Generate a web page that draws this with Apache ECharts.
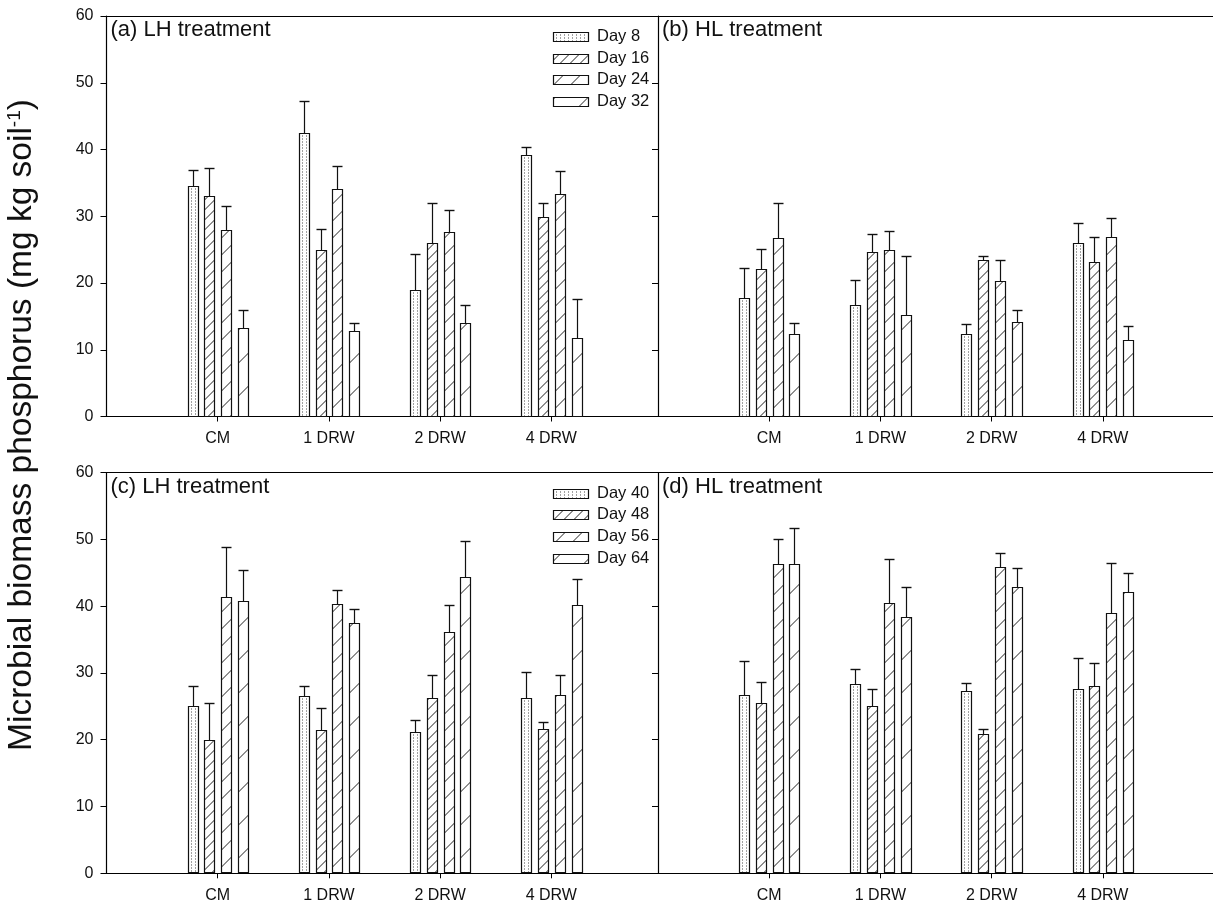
<!DOCTYPE html>
<html><head><meta charset="utf-8">
<script src="https://cdn.jsdelivr.net/npm/echarts@6/dist/echarts.min.js"></script>
<style>html,body{margin:0;padding:0;background:#fff}#c{width:1213px;height:908px}</style>
</head><body><div id="c"></div><script>
// ---------------- data ----------------
const categories = ['CM', '1 DRW', '2 DRW', '4 DRW'];
const daysEarly = ['Day 8', 'Day 16', 'Day 24', 'Day 32'];
const daysLate = ['Day 40', 'Day 48', 'Day 56', 'Day 64'];
const panelTitles = ['(a) LH treatment', '(b) HL treatment', '(c) LH treatment', '(d) HL treatment'];
const yTickStep = 10, yMax = 60;

// (a) LH treatment, days 8-32 : means and upper error
const lhDay8 = [34.5, 42.4, 19.0, 39.2];   const lhDay8Err = [2.4, 4.8, 5.4, 1.2];
const lhDay16 = [33.0, 25.0, 26.0, 29.9];  const lhDay16Err = [4.3, 3.1, 6.0, 2.1];
const lhDay24 = [27.9, 34.1, 27.6, 33.3];  const lhDay24Err = [3.7, 3.5, 3.4, 3.5];
const lhDay32 = [13.3, 12.8, 14.0, 11.8];  const lhDay32Err = [2.6, 1.2, 2.7, 5.8];
// (b) HL treatment, days 8-32
const hlDay8 = [17.7, 16.7, 12.3, 26.0];   const hlDay8Err = [4.6, 3.7, 1.6, 3.0];
const hlDay16 = [22.1, 24.6, 23.5, 23.2];  const hlDay16Err = [3.0, 2.7, 0.6, 3.7];
const hlDay24 = [26.7, 25.0, 20.3, 26.9];  const hlDay24Err = [5.3, 2.8, 3.2, 2.8];
const hlDay32 = [12.4, 15.2, 14.2, 11.4];  const hlDay32Err = [1.6, 8.8, 1.8, 2.1];
// (c) LH treatment, days 40-64
const lhDay40 = [25.0, 26.6, 21.1, 26.2];  const lhDay40Err = [3.1, 1.5, 1.8, 3.9];
const lhDay48 = [19.9, 21.5, 26.2, 21.6];  const lhDay48Err = [5.6, 3.3, 3.5, 1.0];
const lhDay56 = [41.3, 40.3, 36.1, 26.7];  const lhDay56Err = [7.5, 2.1, 4.0, 3.0];
const lhDay64 = [40.8, 37.4, 44.4, 40.1];  const lhDay64Err = [4.6, 2.2, 5.4, 3.9];
// (d) HL treatment, days 40-64
const hlDay40 = [26.7, 28.3, 27.3, 27.6];  const hlDay40Err = [5.1, 2.3, 1.2, 4.6];
const hlDay48 = [25.5, 25.0, 20.9, 28.0];  const hlDay48Err = [3.2, 2.6, 0.7, 3.5];
const hlDay56 = [46.3, 40.4, 45.9, 39.0];  const hlDay56Err = [3.7, 6.7, 2.1, 7.5];
const hlDay64 = [46.3, 38.4, 42.8, 42.1];  const hlDay64Err = [5.4, 4.5, 2.9, 2.9];

// ---------------- styling / layout ----------------
const F = "'Liberation Sans', Arial, sans-serif";
const INK = '#111';
const OFFS = [-25.2, -8.4, 8.4, 25.2];      // px offset of each day's bar within a group
const HATCH = [0, 10, 17, 33];              // hatch spacing (0 = dotted)
const UNIT = 111.2;                         // px per category step
const grids = [
  {left: 106.5, top: 16, width: 551.5, height: 400.5},
  {left: 658, top: 16, width: 555, height: 400.5},
  {left: 106.5, top: 472.5, width: 551.5, height: 400.8},
  {left: 658, top: 472.5, width: 555, height: 400.8}
];
const panels = [
  {days: daysEarly, means: [lhDay8, lhDay16, lhDay24, lhDay32], errs: [lhDay8Err, lhDay16Err, lhDay24Err, lhDay32Err]},
  {days: daysEarly, means: [hlDay8, hlDay16, hlDay24, hlDay32], errs: [hlDay8Err, hlDay16Err, hlDay24Err, hlDay32Err]},
  {days: daysLate, means: [lhDay40, lhDay48, lhDay56, lhDay64], errs: [lhDay40Err, lhDay48Err, lhDay56Err, lhDay64Err]},
  {days: daysLate, means: [hlDay40, hlDay48, hlDay56, hlDay64], errs: [hlDay40Err, hlDay48Err, hlDay56Err, hlDay64Err]}
];

function pattern(x0, y0, x1, y1, k) {
  const els = [];
  const w = x1 - x0;
  if (k === 0) {
    for (let dx = 3; dx < w - 1; dx += 4) {
      els.push({type: 'line', shape: {x1: x0 + dx, y1: y0 + 2, x2: x0 + dx, y2: y1},
        style: {stroke: '#444', lineWidth: 1, lineDash: [1, 2]}});
    }
    return els;
  }
  const s = HATCH[k];
  const cStart = Math.floor(y0 / s) * s;
  for (let c = cStart; c <= y1 + w + s; c += s) {
    const tmin = Math.max(0, (c - y1) / w), tmax = Math.min(1, (c - y0) / w);
    if (tmax > tmin) {
      els.push({type: 'line', shape: {x1: x0 + tmin * w, y1: c - tmin * w, x2: x0 + tmax * w, y2: c - tmax * w},
        style: {stroke: '#222', lineWidth: 1}});
    }
  }
  return els;
}

function makeSeries(name, means, errs, k, g) {
  return {
    type: 'custom', name, xAxisIndex: g, yAxisIndex: g,
    data: means.map((m, i) => [i + 1, m, errs[i]]),
    encode: {x: 0, y: 1},
    renderItem(params, api) {
      const top = api.coord([api.value(0), api.value(1)]);
      const base = api.coord([api.value(0), 0]);
      const et = api.coord([api.value(0), api.value(1) + api.value(2)]);
      const cx = Math.round(top[0] + OFFS[k]) + 0.5;
      const x0 = cx - 5, x1 = cx + 5;
      const y0 = Math.round(top[1]) + 0.5, y1 = Math.round(base[1]) - 0.5;
      const ye = Math.round(et[1]) + 0.5;
      const children = [
        {type: 'line', shape: {x1: cx, y1: y0, x2: cx, y2: ye}, style: {stroke: INK, lineWidth: 1.2}},
        {type: 'line', shape: {x1: cx - 5, y1: ye, x2: cx + 5, y2: ye}, style: {stroke: INK, lineWidth: 1.4}},
        {type: 'rect', shape: {x: x0, y: y0, width: x1 - x0, height: y1 - y0}, style: {fill: '#fff', stroke: null}}
      ];
      children.push(...pattern(x0, y0, x1, y1, k));
      children.push({type: 'rect', shape: {x: x0, y: y0, width: x1 - x0, height: y1 - y0},
        style: {fill: null, stroke: INK, lineWidth: 1.2}});
      return {type: 'group', children};
    }
  };
}

const series = [];
panels.forEach((p, g) => p.means.forEach((m, k) => series.push(makeSeries(p.days[k], m, p.errs[k], k, g))));

// legend graphics (panels a and c)
const graphic = [];
function legend(days, yc0) {
  days.forEach((d, k) => {
    const yc = yc0 + k * 21.7;
    const x0 = 553.5, x1 = 588.5, y0 = Math.round(yc - 4.5) + 0.5, y1 = y0 + 9;
    graphic.push({type: 'rect', shape: {x: x0, y: y0, width: x1 - x0, height: y1 - y0}, style: {fill: '#fff'}});
    pattern(x0, y0, x1, y1, k).forEach(e => graphic.push(e));
    graphic.push({type: 'rect', shape: {x: x0, y: y0, width: x1 - x0, height: y1 - y0}, style: {fill: null, stroke: INK, lineWidth: 1.2}});
    graphic.push({type: 'text', x: 597, y: yc, style: {text: d, fontSize: 16.5, fontFamily: F, fill: INK, verticalAlign: 'middle'}});
  });
}
legend(daysEarly, 36.5);
legend(daysLate, 493);
graphic.push({type: 'text', x: 22, y: 425, rotation: Math.PI / 2,
  style: {text: '{a|Microbial biomass phosphorus (mg kg soil}{s|-1}{a|)}', align: 'center', verticalAlign: 'middle',
    rich: {a: {fontSize: 33.5, fontFamily: F, fill: INK}, s: {fontSize: 19, fontFamily: F, fill: INK, verticalAlign: 'top'}}}});

const xAxes = [];
grids.forEach((gd, g) => {
  xAxes.push({
    gridIndex: g, type: 'value', min: 0, max: gd.width / UNIT, position: 'bottom',
    axisLine: {show: true, lineStyle: {color: '#000', width: 1.2}},
    axisTick: {show: true, customValues: [1, 2, 3, 4], length: 5, lineStyle: {color: '#000'}},
    axisLabel: {customValues: [1, 2, 3, 4], formatter: v => categories[Math.round(v) - 1] || '',
      fontSize: 16, fontFamily: F, color: INK, margin: 14},
    splitLine: {show: false}
  });
});
grids.forEach((gd, g) => {
  // top frame line
  xAxes.push({
    gridIndex: g, type: 'value', min: 0, max: gd.width / UNIT, position: 'top',
    axisLine: {show: true, onZero: false, lineStyle: {color: '#000', width: 1.2}},
    axisTick: {show: false}, axisLabel: {show: false}, splitLine: {show: false}
  });
});

const option = {
  animation: false,
  backgroundColor: '#fff',
  title: panelTitles.map((t, g) => ({
    text: t, left: grids[g].left + 4, top: g < 2 ? 19 : 475.5, padding: 0,
    textStyle: {fontSize: 22, fontWeight: 'normal', fontFamily: F, color: INK}
  })),
  grid: grids.map(gd => ({left: gd.left, top: gd.top, width: gd.width, height: gd.height, containLabel: false})),
  xAxis: xAxes,
  yAxis: grids.map((gd, g) => ({
    gridIndex: g, type: 'value', min: 0, max: yMax, interval: yTickStep,
    axisLine: {show: true, lineStyle: {color: '#000', width: 1.2}},
    axisTick: {show: true, length: 6, lineStyle: {color: '#000'}},
    axisLabel: {show: g % 2 === 0, fontSize: 16, fontFamily: F, color: INK, margin: 13},
    splitLine: {show: false}
  })),
  graphic,
  series
};
const chart = echarts.init(document.getElementById('c'));
chart.setOption(option);
</script></body></html>
